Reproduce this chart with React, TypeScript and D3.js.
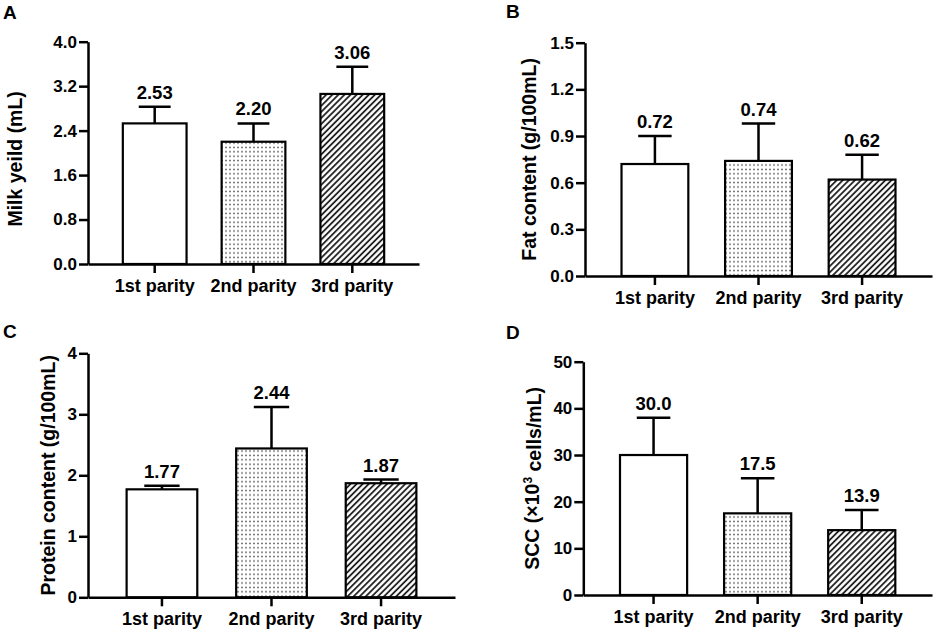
import { useEffect, useRef } from 'react';
import * as d3 from 'd3';

const categories = ['1st parity', '2nd parity', '3rd parity'];

const milkMean = [2.53, 2.2, 3.06];
const milkSd = [0.3, 0.33, 0.49];
const milkTicks = [0, 0.8, 1.6, 2.4, 3.2, 4.0];

const fatMean = [0.72, 0.74, 0.62];
const fatSd = [0.18, 0.24, 0.16];
const fatTicks = [0, 0.3, 0.6, 0.9, 1.2, 1.5];

const proteinMean = [1.77, 2.44, 1.87];
const proteinSd = [0.06, 0.68, 0.06];
const proteinTicks = [0, 1, 2, 3, 4];

const sccMean = [30.0, 17.5, 13.9];
const sccSd = [8.0, 7.5, 4.3];
const sccTicks = [0, 10, 20, 30, 40, 50];

const FONT = "'Liberation Sans', Arial, Helvetica, sans-serif";
const fills = ['#fff', 'url(#dots)', 'url(#hatch)'];

const panels = [
  { letter: 'A', lx: 3, ly: 19, x0: 88, x1: 419, yTop: 41.7, yBot: 264, titleX: 15, titleDy: 6,
    title: 'Milk yeild (mL)', mean: milkMean, sd: milkSd, ticks: milkTicks, tf: '.1f', vf: '.2f' },
  { letter: 'B', lx: 506, ly: 18, x0: 585, x1: 932, yTop: 42.7, yBot: 276, titleX: 529, titleDy: 0,
    title: 'Fat content (g/100mL)', mean: fatMean, sd: fatSd, ticks: fatTicks, tf: '.1f', vf: '.2f' },
  { letter: 'C', lx: 3, ly: 338, x0: 88, x1: 455, yTop: 353.3, yBot: 597.3, titleX: 48, titleDy: 0,
    title: 'Protein content (g/100mL)', mean: proteinMean, sd: proteinSd, ticks: proteinTicks, tf: 'd', vf: '.2f' },
  { letter: 'D', lx: 506, ly: 339, x0: 583.3, x1: 932, yTop: 361.7, yBot: 595, titleX: 532, titleDy: 0,
    title: 'SCC', mean: sccMean, sd: sccSd, ticks: sccTicks, tf: 'd', vf: '.1f' },
];

const App = () => {
  const svgRef = useRef(null);

  useEffect(() => {
    const svg = d3.select(svgRef.current);
    svg.selectAll('*').remove();
    svg.attr('width', 935).attr('height', 634);

    // fill patterns for 2nd and 3rd parity bars
    const defs = svg.append('defs');
    const dots = defs.append('pattern')
      .attr('id', 'dots')
      .attr('patternUnits', 'userSpaceOnUse')
      .attr('width', 4)
      .attr('height', 4.4);
    dots.append('rect').attr('x', 1.3).attr('y', 1.5).attr('width', 1.4).attr('height', 1.4).attr('fill', '#333');

    const hatch = defs.append('pattern')
      .attr('id', 'hatch')
      .attr('patternUnits', 'userSpaceOnUse')
      .attr('width', 4.3)
      .attr('height', 4.3)
      .attr('patternTransform', 'rotate(45)');
    hatch.append('rect').attr('width', 4.3).attr('height', 4.3).attr('fill', '#fff');
    hatch.append('line')
      .attr('x1', 1).attr('y1', 0).attr('x2', 1).attr('y2', 4.3)
      .attr('stroke', '#111').attr('stroke-width', 1.7);

    panels.forEach(p => {
      const g = svg.append('g').attr('font-family', FONT).attr('font-weight', 'bold');

      const x = d3.scaleBand()
        .domain(categories)
        .range([p.x0, p.x1])
        .paddingInner(0.355)
        .paddingOuter(0.3525);

      const y = d3.scaleLinear()
        .domain([p.ticks[0], p.ticks[p.ticks.length - 1]])
        .range([p.yBot, p.yTop]);

      const data = categories.map((c, i) => ({ c, m: p.mean[i], s: p.sd[i], fill: fills[i] }));

      // bars
      g.selectAll('.bar')
        .data(data)
        .enter()
        .append('rect')
        .attr('x', d => x(d.c))
        .attr('y', d => y(d.m))
        .attr('width', x.bandwidth())
        .attr('height', d => p.yBot - y(d.m))
        .attr('fill', d => d.fill)
        .attr('stroke', '#000')
        .attr('stroke-width', 2.2);

      // error bars (upper only)
      const cap = x.bandwidth() / 2;
      g.selectAll('.err')
        .data(data)
        .enter()
        .append('path')
        .attr('d', d => {
          const cx = x(d.c) + x.bandwidth() / 2;
          return `M${cx},${y(d.m)}V${y(d.m + d.s)}M${cx - cap / 2},${y(d.m + d.s)}H${cx + cap / 2}`;
        })
        .attr('fill', 'none')
        .attr('stroke', '#000')
        .attr('stroke-width', 2.5);

      // value labels
      g.selectAll('.val')
        .data(data)
        .enter()
        .append('text')
        .attr('x', d => x(d.c) + x.bandwidth() / 2)
        .attr('y', d => y(d.m + d.s) - 8)
        .attr('text-anchor', 'middle')
        .attr('font-size', 18.5)
        .text(d => d3.format(p.vf)(d.m));

      // axes
      const yAxis = g.append('g')
        .attr('transform', `translate(${p.x0},0)`)
        .call(d3.axisLeft(y).tickValues(p.ticks).tickFormat(d3.format(p.tf)).tickSize(9).tickSizeOuter(0).tickPadding(2));

      const xAxis = g.append('g')
        .attr('transform', `translate(0,${p.yBot})`)
        .call(d3.axisBottom(x).tickSize(9).tickSizeOuter(0).tickPadding(6));

      [yAxis, xAxis].forEach(a => {
        a.attr('font-family', FONT).attr('font-weight', 'bold');
        a.selectAll('path, line').attr('stroke', '#000').attr('stroke-width', 2.5);
        a.selectAll('text').attr('fill', '#000');
      });
      yAxis.selectAll('text').attr('font-size', 17);
      xAxis.selectAll('text').attr('font-size', 18);

      // y title
      const t = g.append('text')
        .attr('transform', `translate(${p.titleX},${(p.yTop + p.yBot) / 2 + p.titleDy}) rotate(-90)`)
        .attr('dy', '0.35em')
        .attr('text-anchor', 'middle')
        .attr('font-size', 19.5);
      if (p.title === 'SCC') {
        t.append('tspan').text('SCC (×10');
        t.append('tspan').attr('font-size', 12).attr('dy', '-0.55em').text('3');
        t.append('tspan').attr('dy', '0.45em').text(' cells/mL)');
      } else {
        t.text(p.title);
      }

      // panel letter
      g.append('text')
        .attr('x', p.lx)
        .attr('y', p.ly)
        .attr('font-size', 19)
        .text(p.letter);
    });
  }, []);

  return (
    <svg ref={svgRef} style={{ position: 'absolute', left: 0, top: 0, background: '#fff' }}></svg>
  );
};

export default App;
